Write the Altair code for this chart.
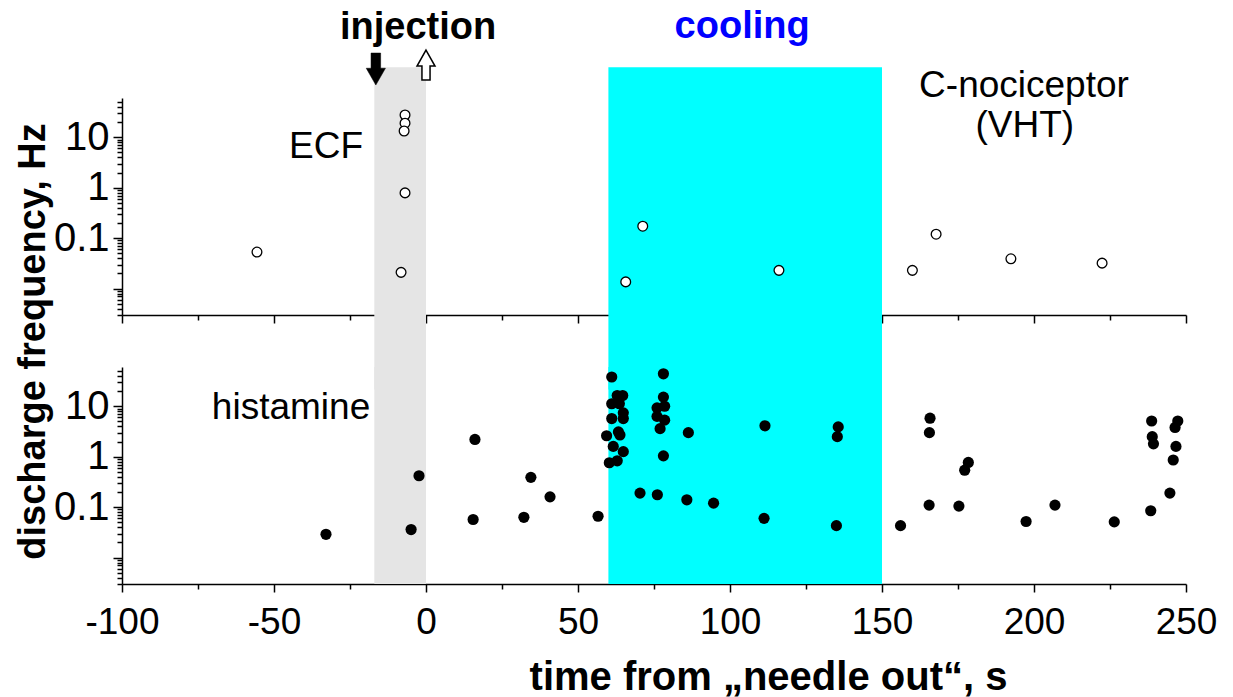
import altair as alt
import pandas as pd

# ---------------- data ----------------
# ECF (top panel, open circles): time (s), discharge frequency (Hz)
ecf_t = [-55.6, -6.9, -6.9, -7.2, -6.9, -8.2, 65.7, 71.3, 116.1, 160.0, 167.8, 192.4, 222.4]
ecf_f = [0.053, 27.6, 19.0, 13.3, 0.79, 0.021, 0.0136, 0.173, 0.023, 0.023, 0.12, 0.039, 0.032]

# histamine (bottom panel, filled circles)
his_t = [-32.9, -4.9, -2.3, 16.1, 15.5, 32.2, 34.5, 40.8, 56.6,
         61.1, 78.1, 62.9, 64.7, 78.1, 61.1, 63.6, 76.0, 78.5, 64.9, 61.1, 64.9, 76.0, 78.5,
         77.0, 59.4, 63.3, 63.8, 86.3, 111.5, 135.6, 135.3, 61.6, 64.9, 60.3, 62.9, 78.1,
         70.4, 76.1, 85.8, 94.6, 111.2, 135.0, 156.1,
         165.8, 165.6, 165.5, 175.3, 178.4, 177.2, 197.4, 206.9, 226.4,
         238.7, 238.9, 239.3, 238.4, 244.7, 245.8, 246.7, 246.4, 247.3]
his_f = [0.029, 0.036, 0.42, 2.2, 0.057, 0.063, 0.39, 0.16, 0.066,
         38.0, 44.0, 16.3, 16.3, 15.2, 11.2, 11.2, 9.3, 10.0, 7.4, 5.7, 5.7, 6.3, 5.3,
         3.6, 2.6, 3.1, 2.7, 3.0, 4.1, 3.9, 2.5, 1.6, 1.26, 0.76, 0.83, 1.04,
         0.19, 0.176, 0.14, 0.12, 0.060, 0.043, 0.043,
         5.8, 3.0, 0.11, 0.105, 0.77, 0.54, 0.052, 0.11, 0.051,
         5.1, 2.5, 1.8, 0.085, 0.19, 0.86, 1.6, 3.8, 5.1]

# shaded periods: injection (grey) and cooling (cyan)
band_start = [-17, 60]
band_end = [0, 150]
band_color = ["#E5E5E5", "#00FFFF"]
# vertical extent of the bands in each panel (freq units)
top_band_lo = [0.0001, 0.0001]
top_band_hi = [245, 245]
bot_band_lo = [0.003, 0.003]
bot_band_hi = [60, 60]

# axes
x_domain = [-100, 250]
y_domain = [0.003, 60]
x_major = [-100, -50, 0, 50, 100, 150, 200, 250]
x_minor = [-75, -25, 25, 75, 125, 175, 225]
y_major = [0.01, 0.1, 1, 10]
y_minor = [0.003, 0.004, 0.005, 0.006, 0.007, 0.008, 0.009,
           0.02, 0.03, 0.04, 0.05, 0.06, 0.07, 0.08, 0.09,
           0.2, 0.3, 0.4, 0.5, 0.6, 0.7, 0.8, 0.9,
           2, 3, 4, 5, 6, 7, 8, 9,
           20, 30, 40, 50]

# annotations (positions in data units)
top_txt = ["ECF", "C-nociceptor", "(VHT)"]
top_txt_t = [-32.9, 196.7, 197.0]
top_txt_f = [6.4, 104, 16.7]
bold_txt = ["injection", "cooling"]
bold_txt_t = [-2.6, 104.0]
bold_txt_f = [1466, 1530]
bold_txt_color = ["#000000", "#0000FF"]
bot_txt = ["histamine"]
bot_txt_t = [-44.4]
bot_txt_f = [9.4]
arrow_down_t = [-16.5]
arrow_down_f = [225]
arrow_up_t = [0]
arrow_up_f = [270]

FONT = "Liberation Sans"
FS = 37


def xs():
    return alt.Scale(domain=x_domain, nice=False, zero=False)


def ys():
    return alt.Scale(type="log", domain=y_domain, nice=False)


NOAX = None
X_LABEL_EXPR = "datum.value < 0 ? datum.value + '\u00a0' : '' + datum.value"
Y_LABEL_EXPR = "datum.value < 0.05 ? '' : format(datum.value, '~g')"


def panel(is_top):
    bands = pd.DataFrame({
        "start": band_start, "end": band_end, "color": band_color,
        "lo": top_band_lo if is_top else bot_band_lo,
        "hi": top_band_hi if is_top else bot_band_hi,
    })
    x_major_axis = alt.Axis(values=x_major, tickSize=8, labels=not is_top, orient="bottom",
                            labelExpr=X_LABEL_EXPR, labelFlush=False,
                            labelFontSize=37, labelPadding=12, labelFont=FONT,
                            title=None if is_top else "time from \u201eneedle out\u201c, s",
                            titleFontSize=40, titleFontWeight="bold", titleFont=FONT,
                            titleX=646, titleY=93, titleBaseline="middle", titleAlign="center")
    x_minor_axis = alt.Axis(values=x_minor, tickSize=5, labels=False, domain=False,
                            orient="bottom", title=None)
    if is_top:
        y_major_axis = alt.Axis(values=y_major, tickSize=9, orient="left",
                                labelExpr=Y_LABEL_EXPR, labelFlush=False,
                                labelFontSize=40, labelPadding=4, labelFont=FONT,
                                title="discharge frequency, Hz", titleFontSize=38,
                                titleFontWeight="bold", titleFont=FONT, titleAngle=270,
                                titleX=-89, titleY=243, titleBaseline="middle", titleAlign="center")
    else:
        y_major_axis = alt.Axis(values=y_major, tickSize=9, orient="left",
                                labelExpr=Y_LABEL_EXPR, labelFlush=False,
                                labelFontSize=40, labelPadding=4, labelFont=FONT, title=None)
    y_minor_axis = alt.Axis(values=y_minor, tickSize=5, labels=False, domain=False,
                            orient="left", title=None)

    band_layer = alt.Chart(bands).mark_rect().encode(
        x=alt.X("start:Q", scale=xs(), axis=x_major_axis),
        x2="end:Q",
        y=alt.Y("lo:Q", scale=ys(), axis=y_major_axis),
        y2="hi:Q",
        color=alt.Color("color:N", scale=None),
    )

    if is_top:
        pts = pd.DataFrame({"t": ecf_t, "f": ecf_f})
        point_layer = alt.Chart(pts).mark_point(
            shape="circle", filled=True, fill="white", stroke="black", strokeWidth=1.3,
            size=95, opacity=1
        ).encode(
            x=alt.X("t:Q", scale=xs(), axis=x_minor_axis),
            y=alt.Y("f:Q", scale=ys(), axis=y_minor_axis),
        )
    else:
        pts = pd.DataFrame({"t": his_t, "f": his_f})
        point_layer = alt.Chart(pts).mark_circle(size=125, color="black", opacity=1).encode(
            x=alt.X("t:Q", scale=xs(), axis=x_minor_axis),
            y=alt.Y("f:Q", scale=ys(), axis=y_minor_axis),
        )

    layers = [band_layer, point_layer]

    if is_top:
        t1 = pd.DataFrame({"txt": top_txt, "t": top_txt_t, "f": top_txt_f})
        layers.append(alt.Chart(t1).mark_text(font=FONT, fontSize=FS, color="black",
                                              baseline="middle", align="center").encode(
            x=alt.X("t:Q", scale=xs(), axis=NOAX),
            y=alt.Y("f:Q", scale=ys(), axis=NOAX),
            text="txt:N"))
        t2 = pd.DataFrame({"txt": bold_txt, "t": bold_txt_t, "f": bold_txt_f, "c": bold_txt_color})
        layers.append(alt.Chart(t2).mark_text(font=FONT, fontSize=38, fontWeight="bold",
                                              baseline="middle", align="center").encode(
            x=alt.X("t:Q", scale=xs(), axis=NOAX),
            y=alt.Y("f:Q", scale=ys(), axis=NOAX),
            color=alt.Color("c:N", scale=None),
            text="txt:N"))
        a1 = pd.DataFrame({"t": arrow_down_t, "f": arrow_down_f})
        layers.append(alt.Chart(a1).mark_point(
            shape="M-0.3,-1 L0.3,-1 L0.3,-0.05 L0.6,-0.05 L0,1 L-0.6,-0.05 L-0.3,-0.05 Z",
            filled=True, fill="black", stroke="black", strokeWidth=0.5, size=1024, opacity=1
        ).encode(
            x=alt.X("t:Q", scale=xs(), axis=NOAX),
            y=alt.Y("f:Q", scale=ys(), axis=NOAX)))
        a2 = pd.DataFrame({"t": arrow_up_t, "f": arrow_up_f})
        layers.append(alt.Chart(a2).mark_point(
            shape="M0,-1 L0.6,0.07 L0.27,0.07 L0.27,1 L-0.27,1 L-0.27,0.07 L-0.6,0.07 Z",
            filled=True, fill="white", stroke="black", strokeWidth=1.5, size=900, opacity=1
        ).encode(
            x=alt.X("t:Q", scale=xs(), axis=NOAX),
            y=alt.Y("f:Q", scale=ys(), axis=NOAX)))
    else:
        t3 = pd.DataFrame({"txt": bot_txt, "t": bot_txt_t, "f": bot_txt_f})
        layers.append(alt.Chart(t3).mark_text(font=FONT, fontSize=FS, color="black",
                                              baseline="middle", align="center").encode(
            x=alt.X("t:Q", scale=xs(), axis=NOAX),
            y=alt.Y("f:Q", scale=ys(), axis=NOAX),
            text="txt:N"))

    return alt.layer(*layers).resolve_axis(x="independent", y="independent").properties(
        width=1064, height=217)


chart = alt.vconcat(panel(True), panel(False), spacing=52, bounds="flush").configure_view(
    strokeWidth=0
).configure_axis(
    grid=False, domainColor="black", tickColor="black", labelColor="black",
    titleColor="black", domainWidth=1.5, tickWidth=1.5, zindex=1
).properties(
    padding={"left": 5, "top": 0, "right": 5, "bottom": 0}
)

chart.save("out.html", embed_options={"renderer": "svg", "actions": False})
